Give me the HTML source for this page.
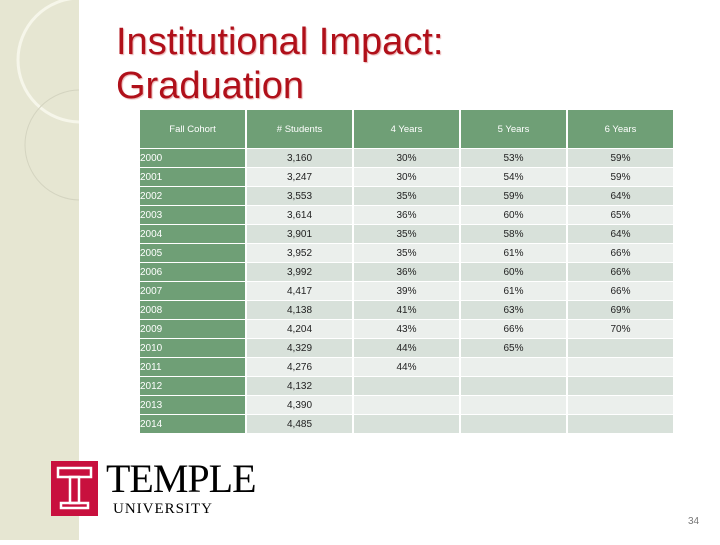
<!DOCTYPE html>
<html><head><meta charset="utf-8"><style>
body{margin:0;width:720px;height:540px;position:relative;background:#fff;font-family:"Liberation Sans",sans-serif;overflow:hidden}
#side{position:absolute;left:0;top:0;width:79px;height:540px;background:#e6e6d2}
#title{position:absolute;left:116px;top:20px;font-size:38px;line-height:44px;color:#b0101a;text-shadow:1px 1px 1px #e8b0b0}
table{position:absolute;left:138px;top:109px;border-collapse:separate;border-spacing:2px 1px;font-size:10px}
td{text-align:center;height:18px;padding:0;color:#222}
th{background:#6f9f76;color:#fff;font-weight:normal;height:38px;width:105px;padding:0;font-size:9.5px}
td.y{background:#6f9f76;color:#fff;text-align:left}
tr.a td:not(.y){background:#d8e1da}
tr.b td:not(.y){background:#ebefec}
#logo{position:absolute;left:51px;top:461px;width:47px;height:55px;background:#c8103e}
#num{position:absolute;left:688px;top:516px;font-size:10px;color:#777}
</style></head><body>
<div id="side">
<svg width="79" height="540"><circle cx="80" cy="60" r="62" fill="none" stroke="#f6f6ea" stroke-width="3"/><circle cx="80" cy="145" r="55" fill="none" stroke="#d4d4c0" stroke-width="1"/></svg>
</div>
<div id="title">Institutional Impact:<br>Graduation</div>
<table>
<tr><th>Fall Cohort</th><th># Students</th><th>4 Years</th><th>5 Years</th><th>6 Years</th></tr>
<tr class="a"><td class="y">2000</td><td>3,160</td><td>30%</td><td>53%</td><td>59%</td></tr>
<tr class="b"><td class="y">2001</td><td>3,247</td><td>30%</td><td>54%</td><td>59%</td></tr>
<tr class="a"><td class="y">2002</td><td>3,553</td><td>35%</td><td>59%</td><td>64%</td></tr>
<tr class="b"><td class="y">2003</td><td>3,614</td><td>36%</td><td>60%</td><td>65%</td></tr>
<tr class="a"><td class="y">2004</td><td>3,901</td><td>35%</td><td>58%</td><td>64%</td></tr>
<tr class="b"><td class="y">2005</td><td>3,952</td><td>35%</td><td>61%</td><td>66%</td></tr>
<tr class="a"><td class="y">2006</td><td>3,992</td><td>36%</td><td>60%</td><td>66%</td></tr>
<tr class="b"><td class="y">2007</td><td>4,417</td><td>39%</td><td>61%</td><td>66%</td></tr>
<tr class="a"><td class="y">2008</td><td>4,138</td><td>41%</td><td>63%</td><td>69%</td></tr>
<tr class="b"><td class="y">2009</td><td>4,204</td><td>43%</td><td>66%</td><td>70%</td></tr>
<tr class="a"><td class="y">2010</td><td>4,329</td><td>44%</td><td>65%</td><td></td></tr>
<tr class="b"><td class="y">2011</td><td>4,276</td><td>44%</td><td></td><td></td></tr>
<tr class="a"><td class="y">2012</td><td>4,132</td><td></td><td></td><td></td></tr>
<tr class="b"><td class="y">2013</td><td>4,390</td><td></td><td></td><td></td></tr>
<tr class="a"><td class="y">2014</td><td>4,485</td><td></td><td></td><td></td></tr>
</table>
<div id="logo">
<svg width="47" height="55"><g fill="none" stroke="#fff" stroke-width="2.5"><rect x="7" y="7" width="33" height="9"/><rect x="19" y="16" width="9" height="26"/><rect x="10" y="42" width="27" height="5"/></g></svg>
</div>
<div style="position:absolute;left:106px;top:459px;font-family:'Liberation Serif',serif;font-size:40px;line-height:40px;letter-spacing:-1px">TEMPLE</div>
<div style="position:absolute;left:113px;top:501px;font-family:'Liberation Serif',serif;font-size:15px;letter-spacing:1px">UNIVERSITY</div>
<div id="num">34</div>
</body></html>
